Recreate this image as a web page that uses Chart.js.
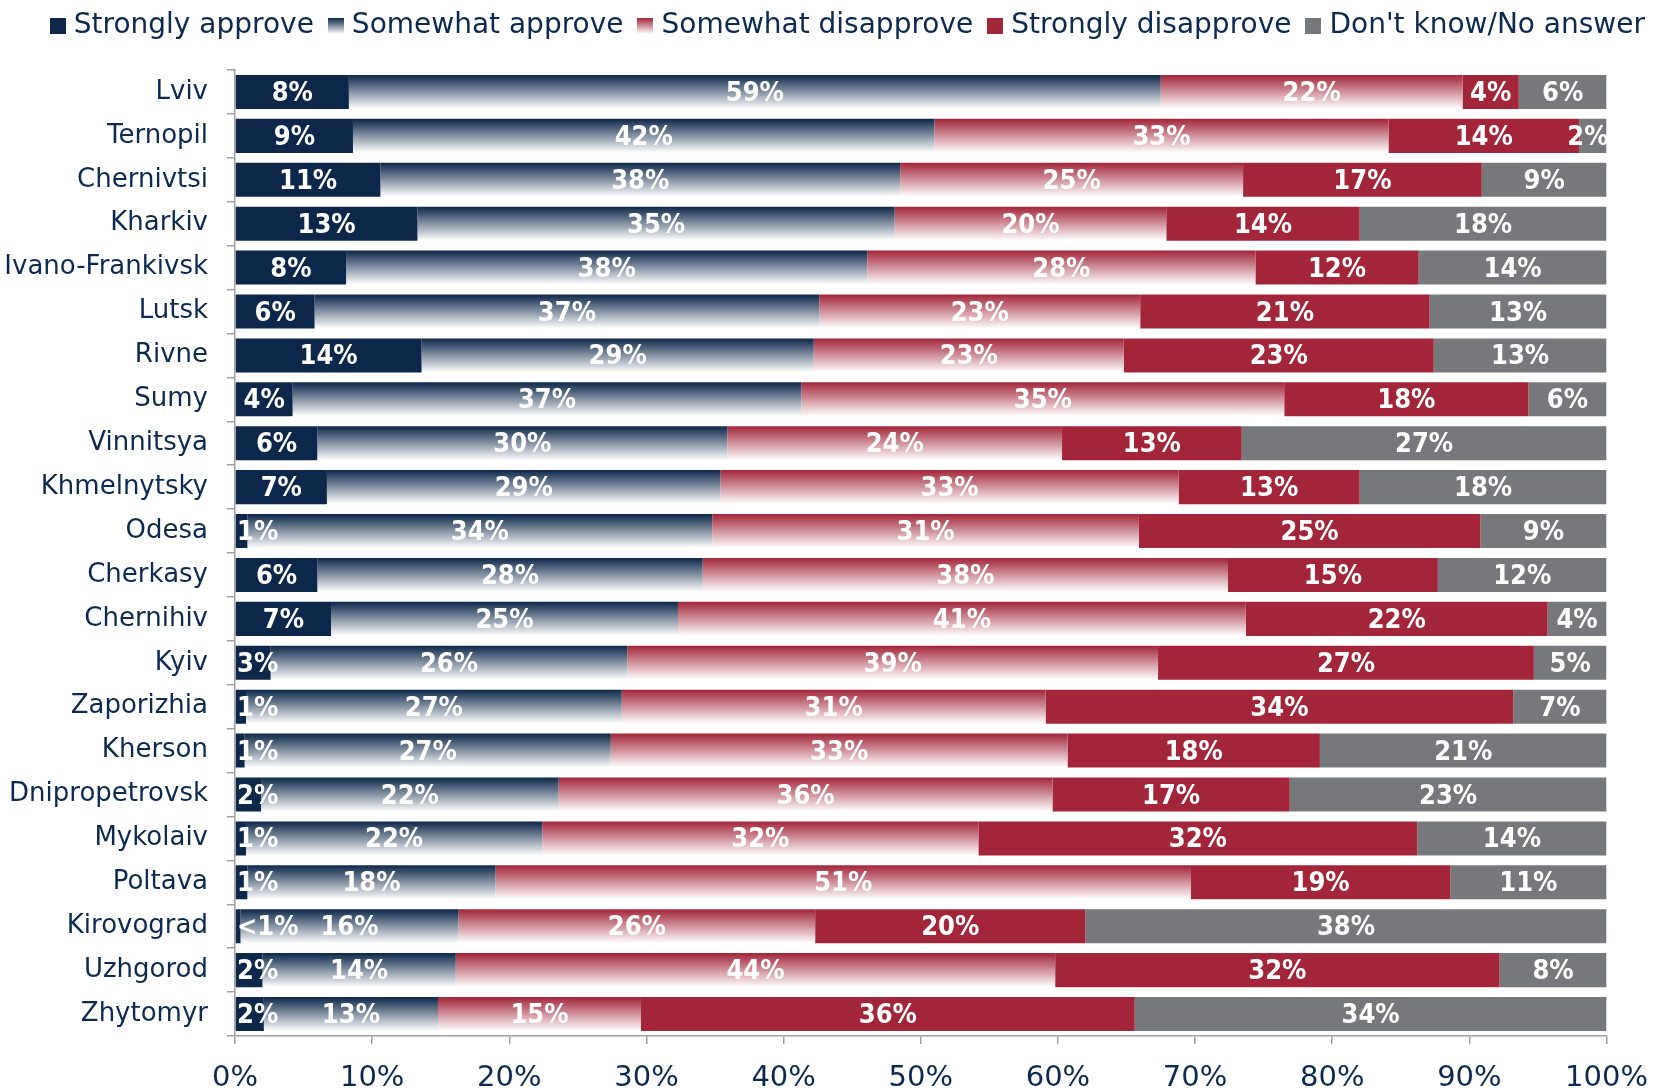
<!DOCTYPE html>
<html><head><meta charset="utf-8">
<script src="https://cdn.jsdelivr.net/npm/chart.js@4.4.1/dist/chart.umd.min.js"></script>
<style>html,body{margin:0;padding:0;background:#fff;}#wrap{width:1665px;height:1091px;position:relative}</style>
</head><body><div id="wrap"><canvas id="c" width="1665" height="1091"></canvas></div>
<script>
const cities = ['Lviv','Ternopil','Chernivtsi','Kharkiv','Ivano-Frankivsk','Lutsk','Rivne','Sumy','Vinnitsya','Khmelnytsky','Odesa','Cherkasy','Chernihiv','Kyiv','Zaporizhia','Kherson','Dnipropetrovsk','Mykolaiv','Poltava','Kirovograd','Uzhgorod','Zhytomyr'];
const stronglyApprove    = [8.3, 8.6, 10.6, 13.3, 8.1, 5.8, 13.6, 4.2, 6.0, 6.7, 0.9, 6.0, 7.0, 2.6, 0.8, 0.7, 1.9, 0.8, 0.9, 0.4, 2.0, 2.1];
const somewhatApprove    = [59.2, 42.4, 37.9, 34.8, 38.0, 36.8, 28.6, 37.1, 29.9, 28.7, 33.9, 28.1, 25.3, 26.0, 27.4, 26.7, 21.7, 21.6, 18.1, 15.9, 14.1, 12.7];
const somewhatDisapprove = [22.0, 33.1, 25.0, 19.8, 28.3, 23.4, 22.6, 35.2, 24.4, 33.4, 31.1, 38.3, 41.4, 38.7, 30.9, 33.3, 36.0, 31.8, 50.7, 26.0, 43.7, 14.8];
const stronglyDisapprove = [4.1, 13.9, 17.4, 14.1, 11.9, 21.1, 22.6, 17.8, 13.1, 13.2, 24.9, 15.3, 22.0, 27.4, 34.1, 18.4, 17.3, 32.0, 18.9, 19.7, 32.4, 36.0];
const dontKnow           = [6.4, 2.0, 9.1, 18.0, 13.7, 12.9, 12.6, 5.7, 26.6, 18.0, 9.2, 12.3, 4.3, 5.3, 6.8, 20.9, 23.1, 13.8, 11.4, 38.0, 7.8, 34.4];
const seriesNames = ['Strongly approve','Somewhat approve','Somewhat disapprove','Strongly disapprove',"Don't know/No answer"];
const xTickLabels = ['0%','10%','20%','30%','40%','50%','60%','70%','80%','90%','100%'];

const NAVY = '#0c2749', RED = '#a22539', GREY = '#77787b', TEXT = '#0d2a4e', AXIS = '#a0a0a4';
const FONT = '"DejaVu Sans", sans-serif';
const BAR_PCT = 0.775;

function barGrad(ctx, top) {
  const chart = ctx.chart, ys = chart.scales && chart.scales.y;
  if (ctx.type !== 'data' || !ys || !chart.chartArea) return top;
  const c = ys.getPixelForValue(ctx.dataIndex);
  const step = Math.abs(ys.getPixelForValue(1) - ys.getPixelForValue(0)) || 40;
  const h = step * BAR_PCT;
  const g = chart.ctx.createLinearGradient(0, c - h / 2, 0, c + h / 2);
  g.addColorStop(0, top);
  g.addColorStop(1, '#ffffff');
  return g;
}
function makeIcon(top, bottom) {
  const c = document.createElement('canvas'); c.width = 16; c.height = 16;
  const g = c.getContext('2d');
  const gr = g.createLinearGradient(0, 0, 0, 16);
  gr.addColorStop(0, top); gr.addColorStop(1, bottom);
  g.fillStyle = gr; g.fillRect(0, 0, 16, 16);
  return c;
}
const icons = [makeIcon(NAVY, NAVY), makeIcon(NAVY, '#ffffff'), makeIcon(RED, '#ffffff'), makeIcon(RED, RED), makeIcon(GREY, GREY)];

const valueLabels = {
  id: 'valueLabels',
  afterDatasetsDraw(chart) {
    const ctx = chart.ctx, area = chart.chartArea;
    ctx.save();
    ctx.font = 'bold 27px "DejaVu Sans Condensed", "DejaVu Sans", sans-serif';
    ctx.fillStyle = '#ffffff';
    ctx.textAlign = 'center';
    ctx.textBaseline = 'middle';
    chart.data.datasets.forEach((ds, di) => {
      const meta = chart.getDatasetMeta(di);
      meta.data.forEach((bar, i) => {
        const v = ds.data[i];
        const t = v < 0.5 ? '<1%' : Math.round(v) + '%';
        const w = ctx.measureText(t).width;
        let x = (bar.x + bar.base) / 2;
        x = Math.max(x, area.left + w / 2 + 2);
        x = Math.min(x, area.right - w / 2 + 2);
        ctx.fillText(t, x, bar.y + 2);
      });
    });
    ctx.restore();
  }
};

const mk = (i, data, bg) => ({ label: seriesNames[i], data, backgroundColor: bg, borderWidth: 0 });

new Chart(document.getElementById('c'), {
  type: 'bar',
  data: {
    labels: cities,
    datasets: [
      mk(0, stronglyApprove, NAVY),
      mk(1, somewhatApprove, c => barGrad(c, NAVY)),
      mk(2, somewhatDisapprove, c => barGrad(c, RED)),
      mk(3, stronglyDisapprove, RED),
      mk(4, dontKnow, GREY)
    ]
  },
  options: {
    indexAxis: 'y',
    responsive: false,
    animation: false,
    devicePixelRatio: 1,
    layout: { padding: { left: 0, right: 0, top: -8, bottom: 0 } },
    datasets: { bar: { barPercentage: BAR_PCT, categoryPercentage: 1 } },
    scales: {
      x: {
        stacked: true, min: 0, max: 100,
        ticks: { stepSize: 10, autoSkip: false, maxRotation: 0, callback: (v, i) => xTickLabels[i], font: { family: FONT, size: 29 }, color: TEXT, padding: 17 },
        grid: { drawOnChartArea: false, drawTicks: true, tickLength: 8, color: AXIS, lineWidth: 1.5 },
        border: { color: AXIS, width: 1.5 },
        afterFit: s => { s.height = 55; }
      },
      xTop: {
        type: 'linear', position: 'top', axis: 'x', min: 0, max: 100,
        ticks: { display: false }, grid: { display: false }, border: { display: false },
        afterFit: s => { s.height = 20; }
      },
      y: {
        stacked: true,
        ticks: { font: { family: FONT, size: 26 }, color: TEXT, padding: 19, autoSkip: false },
        grid: { drawOnChartArea: false, drawTicks: true, tickLength: 8, color: AXIS, lineWidth: 1.5, offset: true },
        border: { color: AXIS, width: 1.5 },
        afterFit: s => { s.width = 235; }
      },
      yRight: {
        type: 'category', position: 'right', axis: 'y', labels: cities,
        ticks: { display: false }, grid: { display: false }, border: { display: false },
        afterFit: s => { s.width = 57; }
      }
    },
    plugins: {
      tooltip: { enabled: false },
      legend: {
        position: 'top', align: 'end',
        labels: {
          usePointStyle: true, boxWidth: 4, boxHeight: 16, padding: 20,
          font: { family: FONT, size: 28 }, color: TEXT,
          generateLabels: chart => chart.data.datasets.map((ds, i) => ({
            text: ds.label, pointStyle: icons[i], fillStyle: 'rgba(0,0,0,0)', strokeStyle: 'rgba(0,0,0,0)',
            lineWidth: 0, hidden: false, datasetIndex: i, fontColor: TEXT
          }))
        }
      }
    }
  },
  plugins: [valueLabels]
});
</script></body></html>
